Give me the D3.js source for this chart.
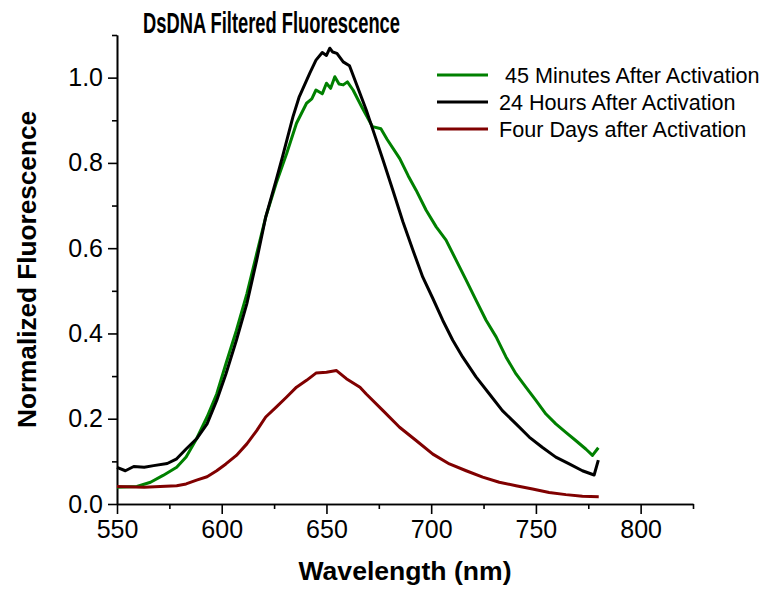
<!DOCTYPE html>
<html>
<head>
<meta charset="utf-8">
<script src="https://cdn.jsdelivr.net/npm/d3@7"></script>
<style>
  html, body { margin: 0; padding: 0; background: #fff; }
  svg { display: block; font-family: 'Liberation Sans', Arial, sans-serif; }
  .axis path, .axis line { stroke: #000; stroke-width: 1.6px; }
  .axis text { font-size: 25px; fill: #000; font-family: 'Liberation Sans', Arial, sans-serif; }
  .legend text { white-space: pre; }
</style>
</head>
<body>
<div id="chart"></div>
<script>
// series (wavelength in nm, normalized intensity)
const minutesNm = [550, 559.5, 566, 572, 578.5, 583, 588, 593, 597.6, 602, 607, 612, 616.7, 621, 626, 631, 635.7, 640.5, 643, 645, 648, 650, 652, 654, 656, 658, 660, 662.7, 667, 672, 676, 679, 685, 689, 692.8, 697.6, 702.4, 707.1, 711.9, 716.7, 721.4, 726.2, 731, 735.7, 740.5, 745.2, 750, 754.8, 759.5, 764.3, 769, 773.8, 777, 779.8]
const minutesVal = [0.039, 0.041, 0.051, 0.067, 0.086, 0.11, 0.153, 0.204, 0.258, 0.329, 0.407, 0.493, 0.587, 0.673, 0.752, 0.822, 0.893, 0.94, 0.95, 0.971, 0.962, 0.987, 0.975, 1.002, 0.985, 0.983, 0.99, 0.971, 0.93, 0.885, 0.88, 0.855, 0.81, 0.77, 0.736, 0.689, 0.65, 0.619, 0.572, 0.525, 0.478, 0.431, 0.392, 0.345, 0.305, 0.274, 0.243, 0.211, 0.188, 0.168, 0.149, 0.129, 0.114, 0.132]

const hoursNm = [550, 554, 558, 563, 567.5, 574, 578.5, 583, 588, 593, 597.6, 602, 607, 612, 616.7, 621, 626, 629, 634, 637, 642, 645, 648, 650, 651.6, 653, 655, 658, 661, 664.3, 669, 673.8, 677, 681.7, 686.5, 691.3, 696, 700.8, 705.5, 710.3, 715, 721.4, 727.8, 734, 740.5, 746.8, 753, 759.5, 765.9, 772.2, 777.8, 779.8]
const hoursVal = [0.086, 0.078, 0.088, 0.086, 0.09, 0.095, 0.106, 0.129, 0.153, 0.188, 0.243, 0.305, 0.384, 0.47, 0.572, 0.673, 0.76, 0.814, 0.908, 0.955, 1.01, 1.041, 1.059, 1.052, 1.069, 1.06, 1.057, 1.037, 1.028, 0.985, 0.924, 0.854, 0.807, 0.736, 0.662, 0.595, 0.532, 0.482, 0.431, 0.384, 0.345, 0.298, 0.258, 0.219, 0.188, 0.157, 0.133, 0.11, 0.094, 0.078, 0.068, 0.103]

const daysNm = [550, 563, 570.6, 578.5, 583, 588, 593, 597.6, 602, 607, 612, 616.7, 621, 626, 631, 635.7, 640.5, 645, 650, 654.8, 659.5, 666, 669, 677, 684.9, 692.8, 700.8, 708.7, 716.7, 724.6, 732.5, 740.5, 748.4, 756.3, 764.3, 772.2, 780]
const daysVal = [0.041, 0.039, 0.041, 0.043, 0.047, 0.056, 0.064, 0.078, 0.094, 0.114, 0.141, 0.172, 0.204, 0.227, 0.251, 0.274, 0.29, 0.307, 0.309, 0.313, 0.294, 0.274, 0.258, 0.219, 0.18, 0.149, 0.117, 0.094, 0.078, 0.063, 0.051, 0.043, 0.035, 0.027, 0.022, 0.018, 0.017]

const seriesLabels = [' 45 Minutes After Activation', '24 Hours After Activation', 'Four Days after Activation']
const seriesColors = ['#008000', '#000000', '#800000']

const xMajorTicks = [550, 600, 650, 700, 750, 800]
const xMinorTicks = [575, 625, 675, 725, 775, 825]
const yMajorTicks = [0, 0.2, 0.4, 0.6, 0.8, 1.0]
const yMinorTicks = [0.1, 0.3, 0.5, 0.7, 0.9, 1.1]

const width = 766
const height = 589
const margin = { top: 35, right: 73, bottom: 85, left: 117 }
const innerW = width - margin.left - margin.right
const innerH = height - margin.top - margin.bottom

const series = [
  { nm: minutesNm, val: minutesVal },
  { nm: hoursNm, val: hoursVal },
  { nm: daysNm, val: daysVal },
].map((s, i) => ({
  label: seriesLabels[i],
  color: seriesColors[i],
  points: s.nm.map((n, j) => ({ x: n, y: s.val[j] })),
}))

const svg = d3.select('#chart').append('svg').attr('width', width).attr('height', height)
const g = svg.append('g').attr('transform', `translate(${margin.left},${margin.top})`)

const x = d3.scaleLinear().domain([550, 825]).range([0, innerW])
const y = d3.scaleLinear().domain([0, 1.1]).range([innerH, 0])

// minor ticks first, major ticks (with labels) on top
g.append('g')
  .attr('class', 'axis')
  .attr('transform', `translate(0,${innerH})`)
  .call(d3.axisBottom(x).tickValues(xMinorTicks).tickSize(5).tickFormat('').tickSizeOuter(0))
g.append('g')
  .attr('class', 'axis')
  .attr('transform', `translate(0,${innerH})`)
  .call(d3.axisBottom(x).tickValues(xMajorTicks).tickSize(10).tickPadding(6).tickFormat(d3.format('d')).tickSizeOuter(0))

g.append('g')
  .attr('class', 'axis')
  .call(d3.axisLeft(y).tickValues(yMinorTicks).tickSize(5).tickFormat('').tickSizeOuter(0))
g.append('g')
  .attr('class', 'axis')
  .call(d3.axisLeft(y).tickValues(yMajorTicks).tickSize(9).tickPadding(5).tickFormat(d3.format('.1f')).tickSizeOuter(0))

const line = d3
  .line()
  .x((d) => x(d.x))
  .y((d) => y(d.y))

g.append('g')
  .selectAll('path')
  .data(series)
  .join('path')
  .attr('fill', 'none')
  .attr('stroke', (d) => d.color)
  .attr('stroke-width', 3)
  .attr('stroke-linejoin', 'round')
  .attr('d', (d) => line(d.points))

// legend
const legend = svg.append('g').attr('class', 'legend')
const rows = legend
  .selectAll('g')
  .data(series)
  .join('g')
  .attr('transform', (d, i) => `translate(437,${75 + i * 27})`)
rows.append('line').attr('x1', 0).attr('x2', 51).attr('stroke', (d) => d.color).attr('stroke-width', 3)
rows
  .append('text')
  .attr('x', 62)
  .attr('y', 8)
  .attr('font-size', 21.6)
  .text((d) => d.label)

// titles
svg
  .append('text')
  .attr('x', 143)
  .attr('y', 33)
  .attr('font-size', 29)
  .attr('font-weight', 'bold')
  .attr('textLength', 257)
  .attr('lengthAdjust', 'spacingAndGlyphs')
  .text('DsDNA Filtered Fluorescence')

svg
  .append('text')
  .attr('x', margin.left + innerW / 2)
  .attr('y', 580)
  .attr('text-anchor', 'middle')
  .attr('font-size', 26)
  .attr('font-weight', 'bold')
  .attr('textLength', 213)
  .attr('lengthAdjust', 'spacingAndGlyphs')
  .text('Wavelength (nm)')

svg
  .append('text')
  .attr('transform', `translate(36,${margin.top + innerH / 2}) rotate(-90)`)
  .attr('text-anchor', 'middle')
  .attr('font-size', 26)
  .attr('font-weight', 'bold')
  .attr('textLength', 317)
  .attr('lengthAdjust', 'spacingAndGlyphs')
  .text('Normalized Fluorescence')
</script>
</body>
</html>
